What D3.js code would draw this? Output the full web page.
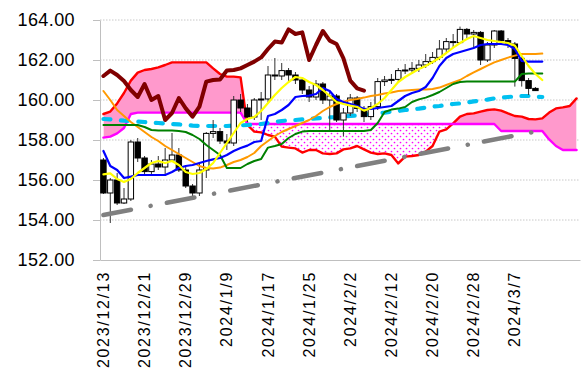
<!DOCTYPE html>
<html lang="ja">
<head>
<meta charset="UTF-8">
<title>一目均衡表</title>
<script src="https://cdnjs.cloudflare.com/ajax/libs/d3/7.8.5/d3.min.js"></script>
<style>
  body { margin: 0; background: #fff; }
  svg { display: block; font-family: "Liberation Sans", Arial, sans-serif; }
  .axis path, .axis line { stroke: #bfbfbf; }
  .axis text { fill: #000; }
  .grid line { stroke: #c8c8c8; stroke-dasharray: 1.5,1.5; }
</style>
</head>
<body>
<div id="chart"></div>
<script>
const dates = ["2023/12/13","2023/12/14","2023/12/15","2023/12/18","2023/12/19","2023/12/20","2023/12/21","2023/12/22","2023/12/25","2023/12/26","2023/12/27","2023/12/28","2023/12/29",
  "2024/1/2","2024/1/3","2024/1/4","2024/1/5","2024/1/8","2024/1/9","2024/1/10","2024/1/11","2024/1/12","2024/1/15","2024/1/16","2024/1/17","2024/1/18","2024/1/19","2024/1/22","2024/1/23","2024/1/24","2024/1/25","2024/1/26","2024/1/29","2024/1/30","2024/1/31",
  "2024/2/1","2024/2/2","2024/2/5","2024/2/6","2024/2/7","2024/2/8","2024/2/9","2024/2/12","2024/2/13","2024/2/14","2024/2/15","2024/2/16","2024/2/19","2024/2/20","2024/2/21","2024/2/22","2024/2/23","2024/2/26","2024/2/27","2024/2/28","2024/2/29",
  "2024/3/1","2024/3/4","2024/3/5","2024/3/6","2024/3/7","2024/3/8","2024/3/11","2024/3/12","2024/3/13","2024/3/14","2024/3/15","2024/3/18","2024/3/19","2024/3/20"];
const xTickLabels = ["2023/12/13","2023/12/21","2023/12/29","2024/1/9","2024/1/17","2024/1/25","2024/2/2","2024/2/12","2024/2/20","2024/2/28","2024/3/7"];
const yTicks = [152, 154, 156, 158, 160, 162, 164];

// candles
const open = [157.0,155.35,156.0,154.85,155.05,157.9,157.1,156.42,156.8,156.65,
  157.0,157.25,156.5,155.7,155.35,156.5,158.33,158.42,157.95,157.85,
  160.0,159.6,159.15,160.0,160.05,161.25,161.2,161.47,161.25,161.0,
  160.5,160.15,160.8,160.0,160.2,159.0,159.35,160.1,159.58,159.17,
  159.67,160.92,161.0,161.03,161.47,161.5,161.58,161.75,161.92,162.13,
  162.55,162.92,162.87,163.53,163.3,163.38,162.0,162.75,163.45,162.97,
  162.8,162.08,160.97,160.58];
const high = [157.1,156.1,156.35,155.6,158.0,158.1,157.2,157.0,157.2,157.6,
  158.35,157.6,156.7,155.8,156.9,158.4,159.0,158.6,158.3,160.2,
  160.3,159.8,160.1,160.4,161.7,162.1,161.85,161.6,161.4,161.1,
  160.7,161.0,160.9,160.4,160.3,159.6,160.3,160.2,159.7,159.9,
  161.1,161.2,161.3,161.6,161.8,161.9,162.0,162.3,162.4,163.0,
  163.1,163.3,163.67,163.6,163.5,163.45,162.9,163.5,163.5,163.1,
  162.9,162.2,161.1,160.65];
const low = [155.3,153.85,154.75,154.8,154.95,156.9,156.2,156.2,156.5,156.2,
  156.9,156.4,155.6,155.2,155.2,156.1,158.1,157.8,157.5,157.7,
  159.4,158.9,159.0,159.0,159.9,161.0,161.0,160.9,160.8,160.3,
  159.9,160.0,159.8,158.5,158.9,158.17,159.2,159.4,158.9,159.0,
  159.5,160.7,160.8,160.9,161.3,161.3,161.4,161.6,161.8,162.0,
  162.4,162.6,162.8,163.1,162.6,161.75,161.9,162.6,162.8,162.6,
  160.67,160.67,160.25,160.45];
const close = [155.35,156.0,154.85,155.05,157.9,157.1,156.42,156.8,156.65,157.0,
  157.25,156.5,155.7,155.35,156.5,158.33,158.42,157.95,157.85,160.0,
  159.6,159.15,160.0,160.05,161.25,161.2,161.47,161.25,161.0,160.5,
  160.15,160.8,160.0,160.2,159.0,159.35,160.1,159.58,159.17,159.67,
  160.92,161.0,161.03,161.47,161.5,161.58,161.75,161.92,162.13,162.55,
  162.92,162.87,163.53,163.3,163.38,162.0,162.75,163.45,162.97,162.8,
  162.08,160.97,160.58,160.47];

// moving averages
const ma5 = [156.28,156.33,156.05,155.9,156.05,156.35,156.6,156.85,156.95,156.85,
  156.95,156.75,156.4,156.3,156.35,156.55,156.85,157.35,157.85,158.35,
  158.85,159.05,159.15,159.45,159.85,160.25,160.6,160.9,161.15,161.1,
  160.9,160.75,160.5,160.2,159.9,159.8,159.72,159.65,159.47,159.6,
  159.8,160.1,160.5,160.9,161.15,161.35,161.55,161.7,161.9,162.1,
  162.35,162.62,162.85,163.05,163.2,163.1,163.0,162.95,162.9,162.85,
  162.72,162.2,161.7,161.3,161.0];
const ma25 = [160.45,160.0,159.5,159.2,158.9,158.65,158.4,158.15,157.95,157.7,
  157.5,157.3,157.1,156.9,156.7,156.6,156.58,156.62,156.75,156.9,
  157.0,157.15,157.35,157.7,157.95,158.2,158.4,158.55,158.7,158.85,
  159.0,159.2,159.45,159.65,159.8,159.92,160.0,160.05,160.12,160.2,
  160.25,160.32,160.38,160.45,160.48,160.5,160.52,160.53,160.55,160.62,
  160.75,160.88,161.0,161.2,161.38,161.55,161.72,161.88,162.0,162.12,
  162.22,162.3,162.3,162.3,162.32];
const ma75 = [159.05,159.03,159.0,158.97,158.95,158.92,158.9,158.87,158.85,158.82,
  158.8,158.78,158.75,158.72,158.7,158.7,158.7,158.7,158.7,158.72,
  158.73,158.75,158.77,158.8,158.85,158.9,158.95,158.98,159.0,159.03,
  159.05,159.08,159.1,159.13,159.15,159.18,159.2,159.23,159.27,159.3,
  159.33,159.37,159.42,159.45,159.5,159.53,159.57,159.62,159.67,159.7,
  159.75,159.8,159.83,159.87,159.93,159.97,160.02,160.08,160.12,160.15,
  160.18,160.2,160.2,160.17,160.15];

// ichimoku
const tenkan = [157.45,156.7,156.5,156.1,156.17,156.25,156.25,156.25,156.25,156.25,
  156.4,156.6,156.7,156.75,156.85,156.95,157.03,157.1,157.25,157.45,
  157.6,157.72,157.9,157.95,159.2,159.3,159.5,159.75,160.15,160.2,
  160.22,160.3,160.6,160.45,160.05,159.9,159.8,159.7,159.55,159.55,
  159.6,159.65,159.7,159.95,160.2,160.35,160.45,160.65,161.1,161.7,
  162.1,162.3,162.4,162.5,162.6,162.75,162.8,162.8,162.8,162.75,
  162.55,161.95,161.92,161.92,161.92];
const kijun = [158.75,158.75,158.75,158.75,158.75,158.75,158.65,158.5,158.47,158.47,
  158.47,158.45,158.4,158.25,158.05,157.75,157.5,157.25,156.6,156.6,
  156.6,156.8,156.95,157.05,157.62,157.7,157.8,158.1,158.3,158.42,
  158.45,158.45,158.45,158.45,158.45,158.45,158.45,158.45,158.45,158.5,
  158.85,159.4,159.52,159.57,159.65,159.9,160.03,160.12,160.25,160.4,
  160.6,160.8,160.9,160.92,160.92,160.92,160.92,160.92,160.92,160.92,
  160.92,161.3,161.33,161.33,161.33];
const senkouA = [159.3,159.42,159.83,160.35,160.97,161.37,161.5,161.55,161.63,161.75,
  161.88,161.88,161.88,161.88,161.88,161.88,161.58,161.3,161.17,161.17,
  161.13,158.75,158.42,158.38,158.25,158.17,157.67,157.62,157.58,157.37,
  157.5,157.5,157.33,157.3,157.33,157.53,157.58,157.7,157.53,157.37,
  157.3,157.33,157.25,156.83,157.17,157.2,157.25,157.42,157.7,158.42,
  158.53,158.83,159.17,159.3,159.33,159.42,159.5,159.53,159.47,159.33,
  159.2,159.17,159.05,159.03,159.08,159.37,159.58,159.63,159.7,160.08];
const senkouB = [158.12,158.17,158.33,158.6,159.3,159.37,159.37,159.37,159.37,159.37,
  159.37,159.37,159.37,159.37,159.37,159.37,159.37,159.37,159.37,159.37,
  159.37,158.8,158.8,158.8,158.8,158.8,158.8,158.8,158.8,158.8,
  158.8,158.8,158.8,158.8,158.8,158.8,158.8,158.8,158.8,158.8,
  158.8,158.8,158.8,158.8,158.8,158.8,158.8,158.8,158.8,158.8,
  158.8,158.8,158.8,158.8,158.8,158.8,158.8,158.8,158.45,158.45,
  158.45,158.45,158.45,158.45,158.45,158.03,157.7,157.5,157.5,157.5];
const chikou = [161.2,161.47,161.25,160.95,160.5,160.15,160.8,160.0,160.2,159.0,
  159.35,160.1,159.58,159.17,159.67,160.92,161.0,161.03,161.47,161.5,
  161.58,161.75,161.92,162.13,162.55,162.92,162.87,163.53,163.3,163.38,
  162.0,162.75,163.45,162.97,162.8,162.08,160.97,160.58,160.47];

// support line (two end points)
const trendIdx = [0, 63];
const trendVal = [154.25, 158.42];

const W = 585, H = 373;
const plot = { left: 100, right: 580, top: 20, bottom: 260 };

const svg = d3.select("#chart").append("svg")
  .attr("width", W).attr("height", H);

const x = d3.scaleBand().domain(dates).range([plot.left, plot.right]).padding(0);
const cx = i => x(dates[i]) + x.bandwidth() / 2;
const y = d3.scaleLinear().domain([152, 164]).range([plot.bottom, plot.top]);

// grid
svg.append("g").attr("class", "grid")
  .selectAll("line").data(yTicks.slice(1)).join("line")
  .attr("x1", plot.left).attr("x2", plot.right)
  .attr("y1", d => y(d)).attr("y2", d => y(d));

// cloud
const defs = svg.append("defs");
const pat = defs.append("pattern").attr("id", "dots")
  .attr("patternUnits", "userSpaceOnUse").attr("width", 6).attr("height", 6);
pat.append("rect").attr("width", 6).attr("height", 6).attr("fill", "#fff");
pat.append("circle").attr("cx", 1.5).attr("cy", 1.5).attr("r", 0.85).attr("fill", "#ff00ff");
pat.append("circle").attr("cx", 4.5).attr("cy", 4.5).attr("r", 0.85).attr("fill", "#ff00ff");

const cloudIdx = d3.range(senkouA.length);
const band = (top, bottom) => d3.area().x(i => cx(i)).y0(top).y1(bottom)(cloudIdx);

defs.append("clipPath").attr("id", "aboveB").append("path")
  .attr("d", band(() => plot.top - 5, i => y(senkouB[i])));
defs.append("clipPath").attr("id", "aboveA").append("path")
  .attr("d", band(() => plot.top - 5, i => y(senkouA[i])));

svg.append("path")
  .attr("d", band(i => y(senkouA[i]), () => plot.bottom))
  .attr("clip-path", "url(#aboveB)")
  .attr("fill", "#ff99cc");
svg.append("path")
  .attr("d", band(i => y(senkouB[i]), () => plot.bottom))
  .attr("clip-path", "url(#aboveA)")
  .attr("fill", "url(#dots)");

const line = d3.line().x((d, i) => cx(i)).y(d => y(d));

function drawLine(data, color, width, dash, cap) {
  return svg.append("path")
    .attr("d", line(data))
    .attr("fill", "none")
    .attr("stroke", color)
    .attr("stroke-width", width)
    .attr("stroke-linejoin", "round")
    .attr("stroke-linecap", cap || "round")
    .attr("stroke-dasharray", dash || null);
}

drawLine(senkouA, "#ff0000", 2.4);
drawLine(senkouB, "#ff00ff", 2.4);
drawLine(ma75, "#00c0f0", 4.2, "7,10.5");

// axes
const yAxis = svg.append("g").attr("class", "axis")
  .attr("transform", `translate(${plot.left},0)`)
  .call(d3.axisLeft(y).tickValues(yTicks).tickFormat(d3.format(".2f"))
    .tickSizeInner(7).tickSizeOuter(0).tickPadding(18));
yAxis.selectAll("text").style("font-size", "18px").style("letter-spacing", "0.4px");

const xAxis = svg.append("g").attr("class", "axis")
  .attr("transform", `translate(0,${plot.bottom})`)
  .call(d3.axisBottom(x).tickValues(xTickLabels).tickSize(0));
xAxis.selectAll("text")
  .attr("transform", "rotate(-90)")
  .attr("x", -11).attr("y", 0).attr("dy", "0.35em")
  .attr("text-anchor", "end")
  .style("font-size", "16px").style("letter-spacing", "1.7px");

// candles
const candles = svg.append("g");
const bw = 5.4;
close.forEach((c, i) => {
  const g = candles.append("g");
  g.append("line")
    .attr("x1", cx(i)).attr("x2", cx(i))
    .attr("y1", y(high[i])).attr("y2", y(low[i]))
    .attr("stroke", "#333").attr("stroke-width", 1);
  const top = Math.max(open[i], c), bot = Math.min(open[i], c);
  g.append("rect")
    .attr("x", cx(i) - bw / 2).attr("width", bw)
    .attr("y", y(top)).attr("height", Math.max(1, y(bot) - y(top)))
    .attr("fill", c < open[i] ? "#000" : "#fff")
    .attr("stroke", "#000").attr("stroke-width", 1);
});

drawLine(ma25, "#ff9900", 2);
drawLine(kijun, "#008000", 2);
drawLine(tenkan, "#0000ff", 2.2);
drawLine(ma5, "#ffff00", 2.2);
drawLine(chikou, "#800000", 4);

// support line
svg.append("path")
  .attr("d", d3.line().x(d => cx(d[0])).y(d => y(d[1]))(trendIdx.map((d, k) => [d, trendVal[k]])))
  .attr("fill", "none")
  .attr("stroke", "#808080")
  .attr("stroke-width", 4.5)
  .attr("stroke-linecap", "round")
  .attr("stroke-dasharray", "28,20,0.1,16.5");
</script>
</body>
</html>
